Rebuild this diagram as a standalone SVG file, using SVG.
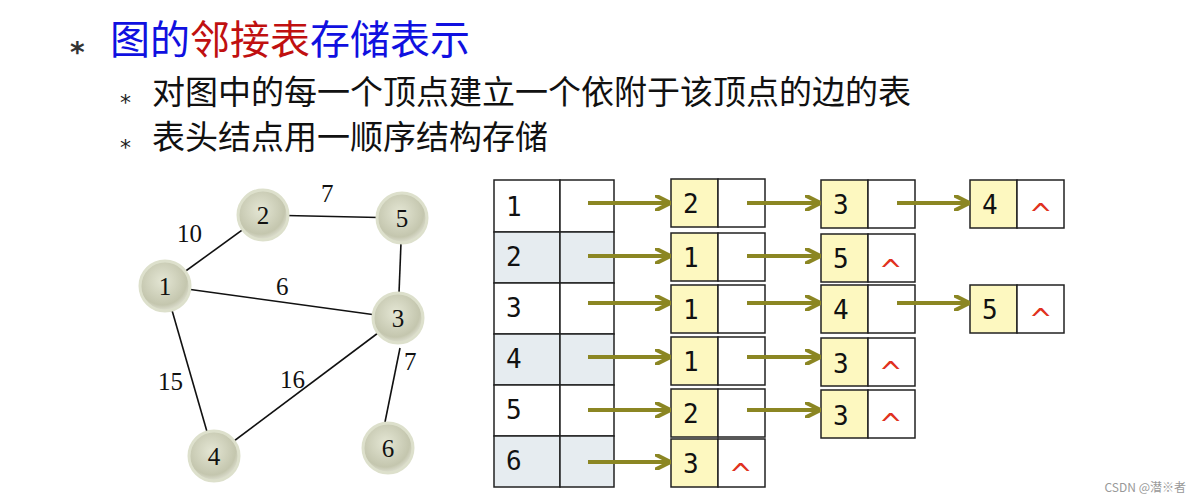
<svg xmlns="http://www.w3.org/2000/svg" width="1194" height="500" viewBox="0 0 1194 500">
<defs>
<radialGradient id="g" cx="0.45" cy="0.4" r="0.6"><stop offset="0" stop-color="#e4e6d4"/><stop offset="0.8" stop-color="#c4c6ae"/><stop offset="1" stop-color="#dfe0d2"/></radialGradient>
<marker id="a" viewBox="0 0 10 10" refX="9" refY="5" markerWidth="4" markerHeight="4" orient="auto"><path d="M0,0 L10,5 L0,10" fill="none" stroke="#8b8623" stroke-width="2.5"/></marker>
</defs>
<style>
.cjk{font-family:"Noto Sans CJK SC","Noto Sans",sans-serif}
.t{font-family:"Liberation Serif",serif;font-size:25px;fill:#111}
.m{font-family:"DejaVu Sans Mono",monospace;font-size:26px;fill:#111}
.c{fill:#fff;stroke:#222;stroke-width:1.5}
.s{fill:#e6ecf0;stroke:#222;stroke-width:1.5}
.y{fill:#fdf8c0;stroke:#222;stroke-width:1.5}
.ar line{stroke:#8b8623;stroke-width:4;marker-end:url(#a)}
.e line{stroke:#111;stroke-width:1.6}
.n circle{fill:url(#g);stroke:#dde0cc;stroke-width:3}
.hat{font-family:"DejaVu Sans",sans-serif;font-size:28px;fill:#e03020}
</style>
<rect width="1194" height="500" fill="#fff"/>
<text x="70" y="62" font-family="DejaVu Sans,sans-serif" font-weight="bold" font-size="28" fill="#333">*</text>
<text x="110" y="54" class="cjk" font-size="40"><tspan fill="#1010e0">图的</tspan><tspan fill="#c01010">邻接表</tspan><tspan fill="#1010e0">存储表示</tspan></text>
<text x="120" y="110" font-family="DejaVu Sans,sans-serif" font-size="22" fill="#222">*</text>
<text x="152" y="104" class="cjk" font-size="33" fill="#111">对图中的每一个顶点建立一个依附于该顶点的边的表</text>
<text x="120" y="155" font-family="DejaVu Sans,sans-serif" font-size="22" fill="#222">*</text>
<text x="152" y="149" class="cjk" font-size="33" fill="#111">表头结点用一顺序结构存储</text>
<g id="edges" class="e">
<line x1="165" y1="286" x2="263" y2="215"/><line x1="263" y1="215" x2="402" y2="218"/>
<line x1="165" y1="286" x2="398" y2="318"/><line x1="402" y1="218" x2="398" y2="318"/>
<line x1="165" y1="286" x2="214" y2="456"/><line x1="214" y1="456" x2="398" y2="318"/>
<line x1="400" y1="348" x2="385" y2="422"/>
</g>
<g class="t"><text x="177" y="242">10</text><text x="321" y="202">7</text><text x="276" y="295">6</text><text x="158" y="390">15</text><text x="280" y="388">16</text><text x="404" y="370">7</text></g>
<g class="n t" text-anchor="middle">
<g id="v1"><circle cx="165" cy="286" r="25"/><text x="165" y="295">1</text></g>
<g id="v2"><circle cx="263" cy="215" r="25"/><text x="263" y="224">2</text></g>
<g id="v5"><circle cx="402" cy="218" r="25"/><text x="402" y="227">5</text></g>
<g id="v3"><circle cx="398" cy="318" r="25"/><text x="398" y="327">3</text></g>
<g id="v4"><circle cx="214" cy="456" r="25"/><text x="214" y="465">4</text></g>
<g id="v6"><circle cx="388" cy="448" r="25"/><text x="388" y="457">6</text></g>
</g>
<g id="heads" class="m">
<rect class="c" x="494" y="180" width="66" height="52"/><rect class="c" x="560" y="180" width="54" height="52"/><text x="506" y="216">1</text>
<rect class="s" x="494" y="232" width="66" height="51"/><rect class="s" x="560" y="232" width="54" height="51"/><text x="506" y="266">2</text>
<rect class="c" x="494" y="283" width="66" height="51"/><rect class="c" x="560" y="283" width="54" height="51"/><text x="506" y="317">3</text>
<rect class="s" x="494" y="334" width="66" height="51"/><rect class="s" x="560" y="334" width="54" height="51"/><text x="506" y="368">4</text>
<rect class="c" x="494" y="385" width="66" height="51"/><rect class="c" x="560" y="385" width="54" height="51"/><text x="506" y="419">5</text>
<rect class="s" x="494" y="436" width="66" height="51"/><rect class="s" x="560" y="436" width="54" height="51"/><text x="506" y="470">6</text>
</g>
<g id="lists" class="m">
<g id="r1"><rect class="y" x="671" y="179" width="47" height="48"/><rect class="c" x="718" y="179" width="47" height="48"/><text x="683" y="213">2</text>
<rect class="y" x="821" y="180" width="47" height="48"/><rect class="c" x="868" y="180" width="47" height="48"/><text x="833" y="214">3</text>
<rect class="y" x="970" y="180" width="47" height="48"/><rect class="c" x="1017" y="180" width="47" height="48"/><text x="982" y="214">4</text><text class="hat" x="1029" y="224">^</text></g>
<g id="r2"><rect class="y" x="671" y="233" width="47" height="48"/><rect class="c" x="718" y="233" width="47" height="48"/><text x="683" y="267">1</text>
<rect class="y" x="821" y="234" width="47" height="48"/><rect class="c" x="868" y="234" width="47" height="48"/><text x="833" y="268">5</text><text class="hat" x="879" y="280">^</text></g>
<g id="r3"><rect class="y" x="671" y="285" width="47" height="48"/><rect class="c" x="718" y="285" width="47" height="48"/><text x="683" y="319">1</text>
<rect class="y" x="821" y="285" width="47" height="48"/><rect class="c" x="868" y="285" width="47" height="48"/><text x="833" y="319">4</text>
<rect class="y" x="970" y="285" width="47" height="48"/><rect class="c" x="1017" y="285" width="47" height="48"/><text x="982" y="319">5</text><text class="hat" x="1029" y="329">^</text></g>
<g id="r4"><rect class="y" x="671" y="337" width="47" height="48"/><rect class="c" x="718" y="337" width="47" height="48"/><text x="683" y="371">1</text>
<rect class="y" x="821" y="338" width="47" height="48"/><rect class="c" x="868" y="338" width="47" height="48"/><text x="833" y="373">3</text><text class="hat" x="879" y="382">^</text></g>
<g id="r5"><rect class="y" x="671" y="389" width="47" height="48"/><rect class="c" x="718" y="389" width="47" height="48"/><text x="683" y="423">2</text>
<rect class="y" x="821" y="390" width="47" height="48"/><rect class="c" x="868" y="390" width="47" height="48"/><text x="833" y="425">3</text><text class="hat" x="879" y="434">^</text></g>
<g id="r6"><rect class="y" x="671" y="439" width="47" height="48"/><rect class="c" x="718" y="439" width="47" height="48"/><text x="683" y="473">3</text><text class="hat" x="729" y="484">^</text></g>
</g>
<g id="arrows" class="ar">
<line x1="588" y1="203" x2="669" y2="203"/><line x1="747" y1="203" x2="819" y2="203"/><line x1="897" y1="203" x2="968" y2="203"/>
<line x1="588" y1="256" x2="669" y2="256"/><line x1="747" y1="256" x2="819" y2="256"/>
<line x1="588" y1="303" x2="669" y2="303"/><line x1="747" y1="303" x2="819" y2="303"/><line x1="897" y1="303" x2="968" y2="303"/>
<line x1="588" y1="357" x2="669" y2="357"/><line x1="747" y1="357" x2="819" y2="357"/>
<line x1="588" y1="410" x2="669" y2="410"/><line x1="747" y1="410" x2="819" y2="410"/>
<line x1="588" y1="462" x2="669" y2="462"/>
</g>
<text x="1186" y="492" text-anchor="end" class="cjk" font-size="12" fill="#999">CSDN @潜※者</text>
</svg>
